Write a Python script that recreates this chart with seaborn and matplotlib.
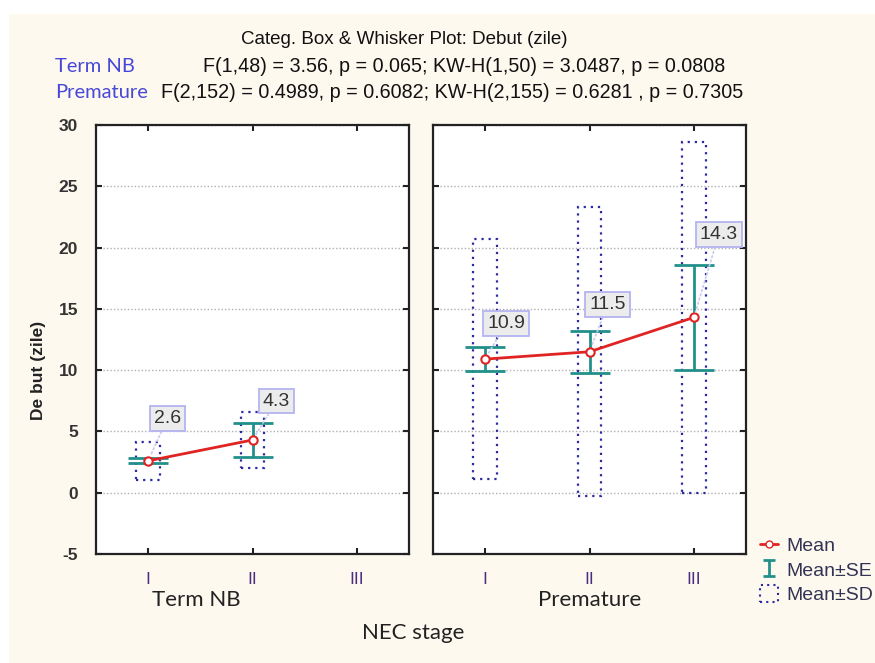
import numpy as np
import pandas as pd
import matplotlib
matplotlib.use("Agg")
import matplotlib.pyplot as plt
from matplotlib.patches import Rectangle
from matplotlib.lines import Line2D
from matplotlib.path import Path
import seaborn as sns

# data
stages = ["I", "II", "III"]
groups = ["Term NB", "Premature"]
term_mean = [2.6, 4.3, np.nan]
term_se = [0.2, 1.35, np.nan]
term_sd = [1.55, 2.3, np.nan]
prem_mean = [10.9, 11.5, 14.3]
prem_se = [0.95, 1.7, 4.3]
prem_sd = [9.8, 11.8, 14.3]
stats_lines = ["F(1,48) = 3.56, p = 0.065; KW-H(1,50) = 3.0487, p = 0.0808",
               "F(2,152) = 0.4989, p = 0.6082; KW-H(2,155) = 0.6281 , p = 0.7305"]

# label box offsets in pixels (style only)
label_off = [[(19, 42), (24, 39), None], [(21, 36), (18, 47), (25, 83)]]

sns.set_style("white")
plt.rcParams["font.family"] = ["Liberation Sans", "DejaVu Sans"]
plt.rcParams["axes.unicode_minus"] = False

W, H = 875, 663
fig = plt.figure(figsize=(8.75, 6.63), dpi=100)
cream = "#fef9ef"
fig.patch.set_facecolor(cream)
fig.add_artist(Rectangle((0, 1 - 13 / H), 1, 13 / H, transform=fig.transFigure, color="white", zorder=-1))
fig.add_artist(Rectangle((0, 0), 8 / W, 1, transform=fig.transFigure, color="white", zorder=-1))

def ax_rect(x0, x1, y0, y1):
    return [x0 / W, 1 - y1 / H, (x1 - x0) / W, (y1 - y0) / H]

axes = [fig.add_axes(ax_rect(96, 409, 125, 554)), fig.add_axes(ax_rect(433, 746, 125, 554))]

red = "#e02424"
teal = "#22908a"
navy = "#2b2ba0"

for k, ax in enumerate(axes):
    means = [term_mean, prem_mean][k]
    ses = [term_se, prem_se][k]
    sds = [term_sd, prem_sd][k]
    df = pd.DataFrame({"stage": stages, "mean": means})
    ax.set_facecolor("white")
    # SD boxes
    for i, (m, s) in enumerate(zip(means, sds)):
        if np.isnan(m):
            continue
        ax.add_patch(Rectangle((i - 0.115, m - s), 0.23, 2 * s, fill=False,
                               edgecolor=navy, linestyle=(0, (1, 2.2)), linewidth=1.6, zorder=2))
    # SE whiskers
    ok = ~np.isnan(np.array(means, dtype=float))
    xs = np.arange(len(stages))[ok]
    ax.errorbar(xs, np.array(means)[ok], yerr=np.array(ses)[ok], fmt="none",
                ecolor=teal, elinewidth=2, capsize=14.5, capthick=2, zorder=3)
    # mean line
    sns.pointplot(data=df.dropna(), x="stage", y="mean", order=stages, color=red,
                  errorbar=None, markers="o", linestyles="-", ax=ax)
    for ln in ax.lines:
        if ln.get_marker() == "o":
            ln.set_markerfacecolor("white")
            ln.set_markeredgecolor(red)
            ln.set_markersize(6)
            ln.set_markeredgewidth(1.5)
            ln.set_linewidth(2)
            ln.set_zorder(4)
    # value labels
    for i, m in enumerate(means):
        if np.isnan(m):
            continue
        dx, dy = label_off[k][i]
        ax.annotate(f"{m:.1f}", xy=(i, m), xytext=(dx, dy), textcoords="offset pixels",
                    ha="center", va="center", fontsize=14, color="#333333",
                    bbox=dict(boxstyle="square,pad=0.2", fc="#ececec", ec="#b4b4f0", lw=1.3),
                    arrowprops=dict(arrowstyle="-", color="#c8c8f0", linestyle=":", lw=1.2,
                                    shrinkA=0, shrinkB=4), zorder=6)
    ax.set_xlim(-0.5, 2.5)
    ax.set_ylim(-5, 30)
    ax.set_yticks(np.arange(-5, 31, 5))
    ax.set_xticks(range(3))
    ax.set_xticklabels(stages, color="#4a2f80", fontsize=12.5)
    ax.grid(axis="y", linestyle=(0, (1, 1.5)), color="#b0b0b0", linewidth=1)
    ax.set_axisbelow(True)
    ax.tick_params(direction="in", length=4, width=1.5, color="#222222",
                   top=True, right=True, bottom=True, left=True, pad=13)
    ax.tick_params(axis="y", labelsize=12.5, labelcolor="#333333")
    for sp in ax.spines.values():
        sp.set_visible(True)
        sp.set_color("#222222")
        sp.set_linewidth(1.6)
    ax.set_xlabel("")
    ax.set_ylabel("")
    if k == 1:
        ax.set_yticklabels([])
    else:
        for t in ax.get_yticklabels():
            t.set_fontweight("bold")

def fx(px):
    return px / W

def fy(py):
    return 1 - py / H

fig.text(fx(404), fy(40), "Categ. Box & Whisker Plot: Debut (zile)", ha="center", va="center", fontsize=13.5, color="#111111")
fig.text(fx(55), fy(67), "Term NB", ha="left", va="center", fontsize=14.5, color="#4848d8", family=["Lato", "DejaVu Sans"])
fig.text(fx(55), fy(93), "Premature", ha="left", va="center", fontsize=14.5, color="#4848d8", family=["Lato", "DejaVu Sans"])
fig.text(fx(203), fy(67), stats_lines[0], ha="left", va="center", fontsize=14.2, color="#111111")
fig.text(fx(161), fy(93), stats_lines[1], ha="left", va="center", fontsize=14.2, color="#111111")

fig.text(fx(38), fy(370), "De but (zile)", rotation=90, ha="center", va="center", fontsize=12.5, color="#222222", fontweight="bold")
fig.text(fx(196), fy(600), groups[0], ha="center", va="center", fontsize=16, color="#222222", family=["Lato", "DejaVu Sans"])
fig.text(fx(590), fy(600), groups[1], ha="center", va="center", fontsize=16, color="#222222", family=["Lato", "DejaVu Sans"])
fig.text(fx(413), fy(633), "NEC stage", ha="center", va="center", fontsize=16, color="#222222", family=["Lato", "DejaVu Sans"])

# legend
ibeam = Path([(-0.4, 0.5), (0.4, 0.5), (0, 0.5), (0, -0.5), (-0.4, -0.5), (0.4, -0.5)],
             [Path.MOVETO, Path.LINETO, Path.MOVETO, Path.LINETO, Path.MOVETO, Path.LINETO])
h_mean = Line2D([], [], color=red, lw=2, marker="o", mfc="white", mec=red, ms=5)
h_se = Line2D([], [], ls="none", marker=ibeam, ms=11, mec=teal, mfc="none", mew=2)
h_sd = Rectangle((0, 0), 1, 1, fill=False, edgecolor=navy, linestyle=(0, (1, 2)), linewidth=1.5)
fig.legend([h_mean, h_se, h_sd], ["Mean", "Mean±SE", "Mean±SD"], loc="center left",
           bbox_to_anchor=(fx(760), fy(570)), frameon=False,
           handlelength=0.9, handleheight=1.0, handletextpad=0.45, labelspacing=0.25,
           borderpad=0, borderaxespad=0, labelcolor="#333355",
           prop={"size": 14})

fig.savefig("out.png", dpi=100, facecolor=fig.get_facecolor())
